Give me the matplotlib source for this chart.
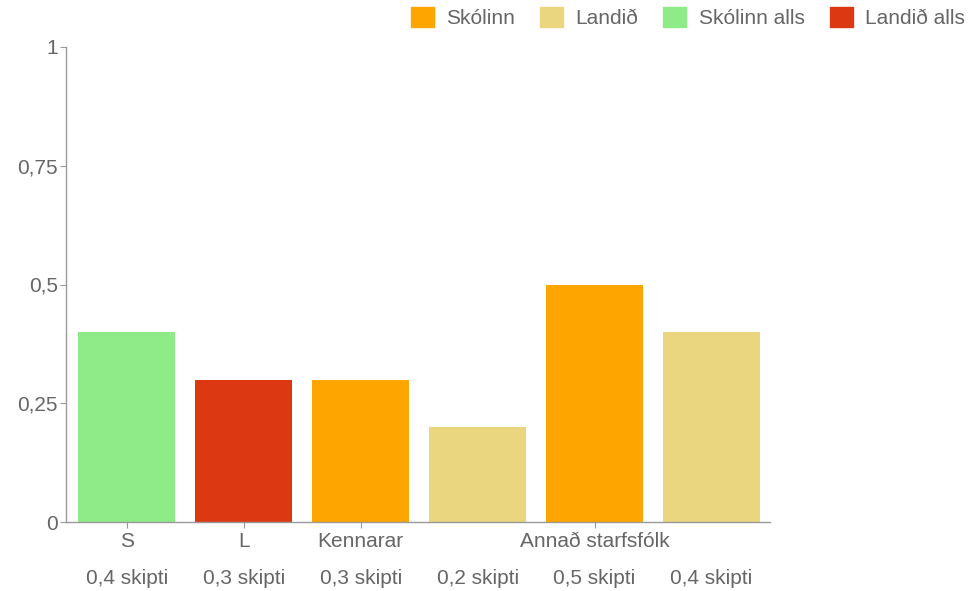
import matplotlib
matplotlib.use("Agg")
from matplotlib import pyplot as plt, patches
from matplotlib import transforms

plt.rcParams['font.family'] = ['Liberation Sans', 'DejaVu Sans']
plt.rcParams['font.size'] = 10

# data
values = [0.4, 0.3, 0.3, 0.2, 0.5, 0.4]
series = ["Skólinn alls", "Landið alls", "Skólinn", "Landið", "Skólinn", "Landið"]
count_labels = ["0,4 skipti", "0,3 skipti", "0,3 skipti", "0,2 skipti", "0,5 skipti", "0,4 skipti"]
group_pos = [0, 1, 2, 4]
group_labels = ["S", "L", "Kennarar", "Annað starfsfólk"]
y_ticks = [0, 0.25, 0.5, 0.75, 1]
y_tick_labels = ["0", "0,25", "0,5", "0,75", "1"]

colors = {"Skólinn": "#FFA500", "Landið": "#EAD67E",
          "Skólinn alls": "#8EEB87", "Landið alls": "#DC3912"}
legend_order = ["Skólinn", "Landið", "Skólinn alls", "Landið alls"]
grey = "#666666"
axis_grey = "#999999"
fs = 15

fig = plt.figure(figsize=(9.74, 5.91), dpi=100)
ax = fig.add_axes([66/974, 69/591, 704/974, 475/591])

x = list(range(len(values)))
ax.bar(x, values, width=0.83, color=[colors[s] for s in series])

ax.set_xlim(-0.52, 5.5)
ax.set_ylim(0, 1)
ax.set_yticks(y_ticks)
ax.set_yticklabels(y_tick_labels)
ax.set_xticks(group_pos)
ax.set_xticklabels(group_labels)

for s in ["top", "right"]:
    ax.spines[s].set_visible(False)
for s in ["left", "bottom"]:
    ax.spines[s].set_color(axis_grey)
    ax.spines[s].set_linewidth(1)
ax.tick_params(axis="both", colors=axis_grey, labelcolor=grey, labelsize=fs, length=4)
ax.tick_params(axis="x", pad=3)
ax.tick_params(axis="y", pad=2)

# second row of labels
trans = transforms.blended_transform_factory(ax.transData, ax.transAxes)
for xi, lab in zip(x, count_labels):
    ax.text(xi, -56/475, lab, transform=trans, ha="center", va="center",
            color=grey, fontsize=fs)

# legend
handles = [patches.Patch(color=colors[k], label=k) for k in legend_order]
fig.legend(handles=handles, loc="upper right", bbox_to_anchor=(1.01, 1.02), ncol=4,
           frameon=False, handlelength=1.1, handleheight=1.1, handletextpad=0.6,
           columnspacing=1.2, labelcolor=grey, fontsize=fs)

fig.savefig("out.png", dpi=100)
